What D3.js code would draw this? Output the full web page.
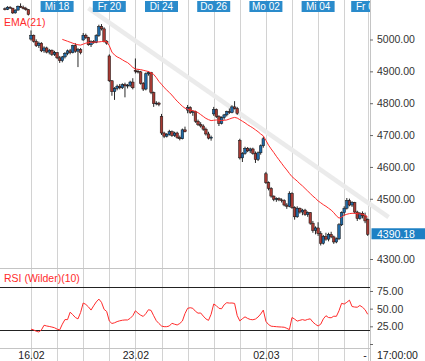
<!DOCTYPE html>
<html><head><meta charset="utf-8">
<script src="https://cdn.jsdelivr.net/npm/d3@7"></script>
<style>body{margin:0;background:#fff;overflow:hidden}svg{display:block;font-family:Arial,"Liberation Sans",sans-serif}</style>
</head><body><svg id="c" width="425" height="361"></svg>
<script>
// ---------- data (hourly candles, index 0 = first visible bar) ----------
const open = [5098,5096,5103,5100,5085,5094,5106,5103,5099,5095,
 5003,5015,4996,4982,4990,4966,4975,4962,4968,4955,
 4960,4944,4935,4947,4958,4966,4960,4982,4965,4970,
 5000,5015,5008,4985,4995,4992,5014,5042,5035,4996,
 4950,4872,4838,4848,4855,4850,4860,4856,4858,4868,
 4905,4902,4900,4864,4846,4894,4898,4835,4800,4802,
 4760,4708,4698,4704,4712,4700,4708,4694,4690,4718,
 4780,4788,4772,4775,4745,4735,4730,4720,4705,4692,
 4768,4782,4760,4738,4756,4765,4775,4772,4790,4785,
 4685,4630,4644,4660,4652,4658,4644,4625,4646,4668,
 4580,4552,4534,4510,4500,4502,4498,4496,4482,4478,
 4518,4474,4445,4472,4460,4466,4452,4458,4425,4402,
 4410,4392,4362,4383,4375,4390,4382,4366,4376,4420,
 4458,4472,4496,4482,4490,4460,4440,4456,4448,4436];
const high = [5102,5106,5106,5101,5096,5108,5115,5108,5104,5097,
 5030,5017,5002,4995,4993,4980,4979,4972,4970,4966,
 4962,4950,4950,4962,4970,4972,4985,4990,4975,4975,
 5022,5020,5010,4999,5000,5018,5048,5050,5040,5000,
 4955,4874,4852,4860,4862,4864,4866,4862,4872,4880,
 4942,4908,4903,4868,4898,4902,4900,4838,4808,4806,
 4768,4712,4708,4718,4716,4712,4712,4700,4722,4728,
 4796,4792,4780,4778,4750,4742,4735,4725,4712,4700,
 4790,4785,4764,4760,4768,4778,4785,4795,4808,4790,
 4690,4648,4665,4664,4662,4662,4650,4650,4672,4696,
 4586,4556,4538,4512,4506,4506,4503,4500,4488,4525,
 4522,4478,4478,4474,4470,4470,4462,4460,4432,4415,
 4428,4400,4388,4395,4395,4398,4386,4380,4425,4462,
 4478,4504,4502,4494,4492,4464,4460,4462,4458,4440];
const low = [5093,5094,5098,5082,5083,5092,5101,5096,5092,5077,
 4998,4992,4978,4975,4962,4960,4958,4955,4950,4950,
 4940,4928,4930,4942,4952,4955,4958,4960,4915,4955,
 4998,5003,4982,4978,4988,4990,5010,5030,4992,4985,
 4868,4825,4812,4842,4845,4846,4820,4848,4852,4845,
 4895,4895,4860,4840,4842,4888,4830,4790,4795,4792,
 4702,4692,4694,4700,4696,4696,4690,4685,4688,4710,
 4770,4768,4762,4740,4730,4725,4715,4700,4688,4684,
 4762,4755,4730,4735,4750,4760,4768,4770,4782,4765,
 4625,4617,4640,4648,4645,4640,4614,4620,4640,4662,
 4548,4528,4505,4494,4492,4494,4490,4478,4470,4475,
 4470,4436,4442,4455,4450,4448,4445,4420,4395,4390,
 4385,4355,4358,4370,4368,4378,4360,4362,4372,4416,
 4448,4468,4478,4476,4455,4432,4436,4440,4425,4385];
const close = [5096,5103,5100,5085,5094,5106,5103,5099,5095,5080,
 5015,4996,4982,4990,4966,4975,4962,4968,4955,4960,
 4944,4935,4947,4958,4966,4960,4982,4965,4970,4960,
 5015,5008,4985,4995,4992,5014,5042,5035,4996,4990,
 4872,4838,4848,4855,4850,4860,4856,4858,4868,4850,
 4902,4900,4864,4846,4894,4898,4835,4800,4802,4798,
 4708,4698,4704,4712,4700,4708,4694,4690,4718,4712,
 4788,4772,4775,4745,4735,4730,4720,4705,4692,4695,
 4782,4760,4738,4756,4765,4775,4772,4790,4785,4770,
 4630,4644,4660,4652,4658,4644,4625,4646,4668,4690,
 4552,4534,4510,4500,4502,4498,4496,4482,4478,4518,
 4474,4445,4472,4460,4466,4452,4458,4425,4402,4410,
 4392,4362,4383,4375,4390,4382,4366,4376,4420,4458,
 4472,4496,4482,4490,4460,4440,4456,4448,4432,4390.18];
const emaStart = 22;
const ema21 = [5002,4999,4996,4993,4990,4987,4985,4984,
 4987,4990,4992,4993,4993,4994,4994,4995,4996,4995,
 4982,4962,4953,4947,4943,4938,4933,4929,4922,4914,
 4909,4908,4907,4905,4903,4901,4897,4892,4882,4870,
 4861,4851,4843,4835,4827,4817,4808,4800,4792,4786,
 4783,4780,4778,4776,4772,4766,4760,4754,4750,4747,
 4748,4749,4748,4747,4748,4749,4752,4755,4757,4755,
 4750,4745,4740,4734,4729,4724,4718,4712,4705,4699,
 4685,4670,4658,4647,4635,4624,4613,4602,4592,4581,
 4571,4564,4557,4549,4542,4534,4526,4518,4510,4503,
 4495,4489,4483,4478,4472,4466,4458,4448,4441,4444,
 4450,4453,4455,4456,4456,4455,4454,4453,4450,4444];
const rsiStart = 10;
const rsi10 = [21,20,18,17,20,26.5,25.5,24.8,24,23,
 21,20,28,34.5,34.5,45,41.5,37.5,35.5,44.5,
 58,56,52.5,48,54,59.5,63.5,59,49,46,
 32.5,29,30,31.7,32.8,33.6,34,34,36.3,40,
 47,43.5,40.8,39,43,48.5,47.5,40,33,29,
 25.5,24.5,24.5,25.5,29.3,28,26.9,29,32.5,43,
 50.5,51.3,50.5,46.3,43.6,43.9,39.5,35.5,33.4,42,
 56.5,54.2,50.5,49.8,55.5,58.4,57.9,58,57.4,40.3,
 32.6,35.8,38.4,36.2,34.7,34.3,35.3,38.2,42.4,48,
 32,27.5,25.2,24.8,24.5,24.2,24,23.7,22.2,20.3,
 37.5,35.2,32.4,33.5,34.5,33.5,34.8,35.6,31,27.8,
 25.5,28,35.5,40,37.4,37.1,39.3,39.1,47,57.5,
 56.5,59,62,53,52.3,52,54.5,52,48.5,42];
const dayStarts = [10,20,30,40,50,60,70,80,90,100,110,120,130,139];
const topLabels = ["Mi 18","Fr 20","Di 24","Do 26","Mo 02","Mi 04","Fr 06"];
const topLabelIdx = [20,40,60,80,100,120,139];
const bottomLabels = ["16.02","23.02","02.03"];
const bottomLabelIdx = [10,50,100];
const priceTicks = [4300,4500,4600,4700,4800,4900,5000];
const rsiTicks = [0,25,50,75];
const rsiBands = [20,80];
const lastPrice = 4390.18;
const trendIdx = [32,147];
const trendVal = [5100,4444];

// ---------- drawing ----------
const svg = d3.select("#c");
const plotR = 370;
const x = d3.scaleLinear().domain([10,139]).range([31,367.7]);
const y = d3.scaleLinear().domain([4300,5000]).range([263,40]);
const yr = d3.scaleLinear().domain([0,100]).range([344,273.3]);
const UP = "#1f6aa8", DOWN = "#a63a33", RED = "#ff2b2b";

const defs = svg.append("defs");
defs.append("clipPath").attr("id","cp").append("rect").attr("x",0).attr("y",0).attr("width",plotR).attr("height",268);
defs.append("clipPath").attr("id","cr").append("rect").attr("x",0).attr("y",269).attr("width",plotR).attr("height",79);
defs.append("clipPath").attr("id","ct").append("rect").attr("x",0).attr("y",0).attr("width",plotR).attr("height",20);

// vertical day gridlines
svg.append("g").selectAll("line").data(dayStarts).join("line")
  .attr("x1",d=>Math.round(x(d))+0.5).attr("x2",d=>Math.round(x(d))+0.5)
  .attr("y1",0).attr("y2",361).attr("stroke","#d2d2d2").attr("stroke-width",1);

// separators and right axis line
svg.append("line").attr("x1",0).attr("x2",plotR).attr("y1",268.5).attr("y2",268.5).attr("stroke","#c4c4c4");
svg.append("line").attr("x1",0).attr("x2",plotR).attr("y1",348.5).attr("y2",348.5).attr("stroke","#c4c4c4");
svg.append("line").attr("x1",plotR+0.5).attr("x2",plotR+0.5).attr("y1",0).attr("y2",361).attr("stroke","#c4c4c4");

// trend line
svg.append("line")
  .attr("x1",x(trendIdx[0])).attr("y1",y(trendVal[0]))
  .attr("x2",x(trendIdx[1])).attr("y2",y(trendVal[1]))
  .attr("stroke","#ebebeb").attr("stroke-width",4.5);

// candles
const idx = d3.range(close.length);
const cg = svg.append("g").attr("clip-path","url(#cp)");
cg.selectAll("line.w").data(idx).join("line").attr("class","w")
  .attr("x1",i=>x(i)).attr("x2",i=>x(i))
  .attr("y1",i=>y(high[i])).attr("y2",i=>y(low[i]))
  .attr("stroke","#111").attr("stroke-width",0.9);
cg.selectAll("rect.b").data(idx).join("rect").attr("class","b")
  .attr("x",i=>x(i)-1.3).attr("width",2.6)
  .attr("y",i=>y(Math.max(open[i],close[i])))
  .attr("height",i=>Math.max(0.8,Math.abs(y(open[i])-y(close[i]))))
  .attr("fill",i=>close[i]>=open[i]?UP:DOWN)
  .attr("stroke","#111").attr("stroke-width",0.5);

// EMA line
const emaLine = d3.line().x((d,k)=>x(emaStart+k)).y(d=>y(d));
cg.append("path").attr("d",emaLine(ema21)).attr("fill","none").attr("stroke",RED).attr("stroke-width",1);

// top date labels
const tg = svg.append("g").attr("clip-path","url(#ct)");
topLabelIdx.forEach((d,k)=>{
  tg.append("rect").attr("x",x(d)-16.5).attr("y",1).attr("width",33).attr("height",11).attr("fill","#2a8bcb");
  tg.append("text").attr("x",x(d)).attr("y",10).attr("text-anchor","middle")
    .attr("fill","#fff").attr("font-size","10px").text(topLabels[k]);
});

svg.append("text").attr("x",4).attr("y",26).attr("fill",RED).attr("font-size","10.5px").text("EMA(21)");

// price axis
const pa = svg.append("g").attr("transform",`translate(${plotR},0)`)
  .call(d3.axisRight(y).tickValues(priceTicks).tickSize(3).tickPadding(4).tickFormat(d3.format(".2f")));
pa.select(".domain").remove();
pa.selectAll(".tick").attr("transform",d=>`translate(0,${Math.min(y(d),259.5)})`);
pa.selectAll(".tick line").attr("stroke","#666");
pa.selectAll(".tick text").attr("fill","#333").attr("font-size","10.5px").attr("font-family","Arial, Liberation Sans, sans-serif");

// last price box
const ly = y(lastPrice);
svg.append("rect").attr("x",plotR+1.5).attr("y",ly-6).attr("width",425-plotR).attr("height",11).attr("fill","#1d80c4");
svg.append("text").attr("x",377).attr("y",ly+4).attr("fill","#fff").attr("font-size","10.5px").text(d3.format(".2f")(lastPrice));

// RSI panel
const rg = svg.append("g").attr("clip-path","url(#cr)");
rg.selectAll("line.band").data(rsiBands).join("line").attr("class","band")
  .attr("x1",0).attr("x2",plotR).attr("y1",d=>Math.round(yr(d))+0.5).attr("y2",d=>Math.round(yr(d))+0.5)
  .attr("stroke","#222").attr("stroke-width",1);
const rsiLine = d3.line().x((d,k)=>x(rsiStart+k)).y(d=>yr(d));
rg.append("path").attr("d",rsiLine(rsi10)).attr("fill","none").attr("stroke",RED).attr("stroke-width",1);
svg.append("text").attr("x",4).attr("y",282).attr("fill",RED).attr("font-size","10.5px").text("RSI (Wilder)(10)");

const ra = svg.append("g").attr("transform",`translate(${plotR},0)`)
  .call(d3.axisRight(yr).tickValues(rsiTicks).tickSize(3).tickPadding(4).tickFormat(d=>d===0?"":d3.format(".2f")(d)));
ra.select(".domain").remove();
ra.selectAll(".tick line").attr("stroke","#666");
ra.selectAll(".tick text").attr("fill","#333").attr("font-size","10.5px").attr("font-family","Arial, Liberation Sans, sans-serif");

// time axis
const ta = svg.append("g").attr("transform","translate(0,349)")
  .call(d3.axisBottom(x).tickValues(bottomLabelIdx).tickSize(0).tickPadding(3).tickFormat((d,k)=>bottomLabels[k]));
ta.select(".domain").remove();
ta.selectAll(".tick text").attr("fill","#222").attr("font-size","10.5px").attr("font-family","Arial, Liberation Sans, sans-serif");
svg.append("text").attr("x",365).attr("y",359).attr("text-anchor","middle").attr("fill","#222").attr("font-size","10.5px").text("-");
svg.append("text").attr("x",377).attr("y",359).attr("fill","#222").attr("font-size","10.5px").text("17:00:00");
</script></body></html>
